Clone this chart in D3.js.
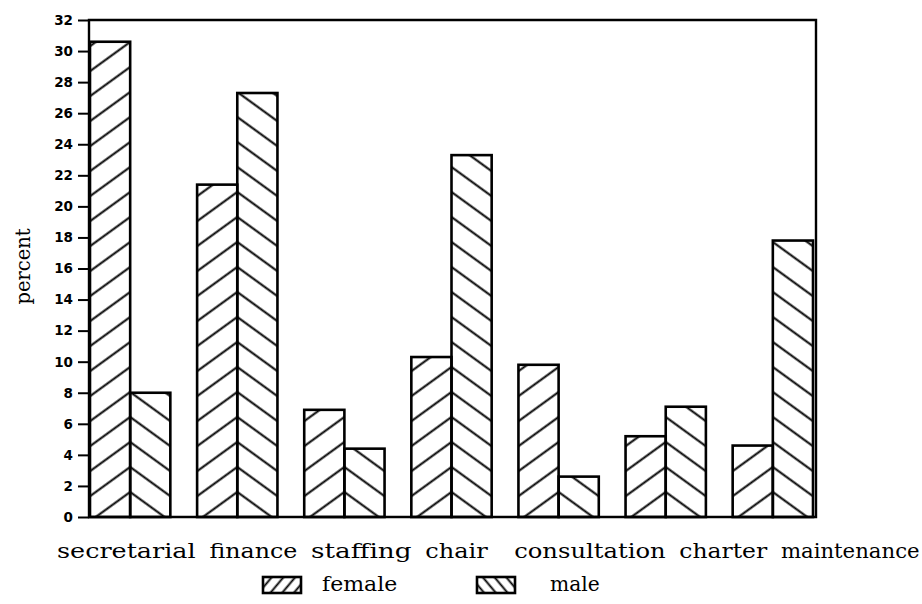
<!DOCTYPE html>
<html>
<head>
<meta charset="utf-8">
<script src="https://cdn.jsdelivr.net/npm/d3@7"></script>
<style>
  body { margin: 0; background: #fff; }
  svg { display: block; }
</style>
</head>
<body>
<div id="chart"></div>
<script>
// data
const categories = ["secretarial", "finance", "staffing", "chair", "consultation", "charter", "maintenance"];
const femaleValues = [30.6, 21.4, 6.9, 10.3, 9.8, 5.2, 4.6];
const maleValues = [8.0, 27.3, 4.4, 23.3, 2.6, 7.1, 17.8];
const seriesNames = ["female", "male"];
const yTickValues = [0, 2, 4, 6, 8, 10, 12, 14, 16, 18, 20, 22, 24, 26, 28, 30, 32];

const width = 922, height = 604;
const plotLeft = 89, plotRight = 816, plotTop = 20, plotBottom = 517;

const svg = d3.select("#chart").append("svg")
    .attr("width", width)
    .attr("height", height);
const defs = svg.append("defs");

const x0 = d3.scaleBand().domain(categories).range([plotLeft + 1, plotRight - 3]).paddingInner(0.25).paddingOuter(0);
const x1 = d3.scaleBand().domain(seriesNames).range([0, x0.bandwidth()]);
const y = d3.scaleLinear().domain([0, 32]).range([plotBottom, plotTop]);

// hatch: horizontal line rotated, anchored so female "/" and male "\" meet on the shared edge
const angle = 36, spacing = 25;
const perp = spacing * Math.cos(angle * Math.PI / 180);

function makeHatch(id, ax, ay, rot, p, sw) {
    const pat = defs.append("pattern")
        .attr("id", id)
        .attr("patternUnits", "userSpaceOnUse")
        .attr("width", 20)
        .attr("height", p)
        .attr("patternTransform", `translate(${ax},${ay}) rotate(${rot}) translate(0,${-p / 2})`);
    pat.append("line")
        .attr("x1", -1).attr("x2", 21)
        .attr("y1", p / 2).attr("y2", p / 2)
        .attr("stroke", "#000")
        .attr("stroke-width", sw);
}

const g = svg.append("g");

categories.forEach((cat, i) => {
    const edge = x0(cat) + x1("male");
    makeHatch("hf" + i, edge, plotBottom, -angle, perp, 2);
    makeHatch("hm" + i, edge, plotBottom, angle, perp, 2);
});

const bars = [];
categories.forEach((cat, i) => {
    bars.push({ cat: cat, i: i, s: "female", v: femaleValues[i] });
    bars.push({ cat: cat, i: i, s: "male", v: maleValues[i] });
});

g.selectAll(".bar")
    .data(bars)
    .enter()
    .append("rect")
    .attr("class", "bar")
    .attr("x", d => x0(d.cat) + x1(d.s))
    .attr("y", d => y(d.v))
    .attr("width", x1.bandwidth())
    .attr("height", d => y(0) - y(d.v))
    .attr("fill", d => `url(#${d.s === "female" ? "hf" : "hm"}${d.i})`)
    .attr("stroke", "#000")
    .attr("stroke-width", 2.6);

// frame
g.append("path")
    .attr("d", `M${plotLeft},${plotTop}H${plotRight}V${plotBottom}H${plotLeft}Z`)
    .attr("fill", "none")
    .attr("stroke", "#000")
    .attr("stroke-width", 2.4);

const yAxis = g.append("g")
    .attr("transform", `translate(${plotLeft},0)`)
    .call(d3.axisLeft(y).tickValues(yTickValues).tickSize(11).tickPadding(5));
yAxis.select(".domain").remove();
yAxis.selectAll(".tick line").attr("stroke", "#000").attr("stroke-width", 2);
yAxis.selectAll(".tick text")
    .attr("fill", "#000")
    .style("font-family", "'DejaVu Sans', sans-serif")
    .style("font-weight", "bold")
    .style("font-size", "13.5px");

svg.append("text")
    .attr("transform", `translate(30,${(plotTop + plotBottom) / 2 - 2}) rotate(-90)`)
    .attr("text-anchor", "middle")
    .style("font-family", "'DejaVu Serif', serif")
    .style("font-size", "19.5px")
    .text("percent");

// category labels laid out like a typewriter line
const charW = 12.7, labelStart = 57, labelY = 558;
const labelLine = categories.slice(0, 4).join(" ") + "  " + categories.slice(4).join(" ");
let pos = 0;
categories.forEach(cat => {
    const idx = labelLine.indexOf(cat, pos);
    pos = idx + cat.length;
    svg.append("text")
        .attr("x", labelStart + idx * charW)
        .attr("y", labelY)
        .attr("textLength", cat.length * charW - 1)
        .attr("lengthAdjust", "spacingAndGlyphs")
        .style("font-family", "'DejaVu Serif', serif")
        .style("font-size", "19.5px")
        .text(cat);
});

// legend
const legendX = [263, 477];
const legendTextX = [322, 550];
const legendY = 577;
seriesNames.forEach((s, i) => {
    const lp = 14 * Math.cos(50 * Math.PI / 180);
    makeHatch("leg" + i, legendX[i] + 19, legendY + 16, s === "female" ? -50 : 50, lp, 1.9);
    svg.append("rect")
        .attr("x", legendX[i])
        .attr("y", legendY)
        .attr("width", 38)
        .attr("height", 16)
        .attr("fill", `url(#leg${i})`)
        .attr("stroke", "#000")
        .attr("stroke-width", 2.6);
    svg.append("text")
        .attr("x", legendTextX[i])
        .attr("y", legendY + 14)
        .attr("textLength", s.length * charW - 1)
        .attr("lengthAdjust", "spacingAndGlyphs")
        .style("font-family", "'DejaVu Serif', serif")
        .style("font-size", "19.5px")
        .text(s);
});
</script>
</body>
</html>
